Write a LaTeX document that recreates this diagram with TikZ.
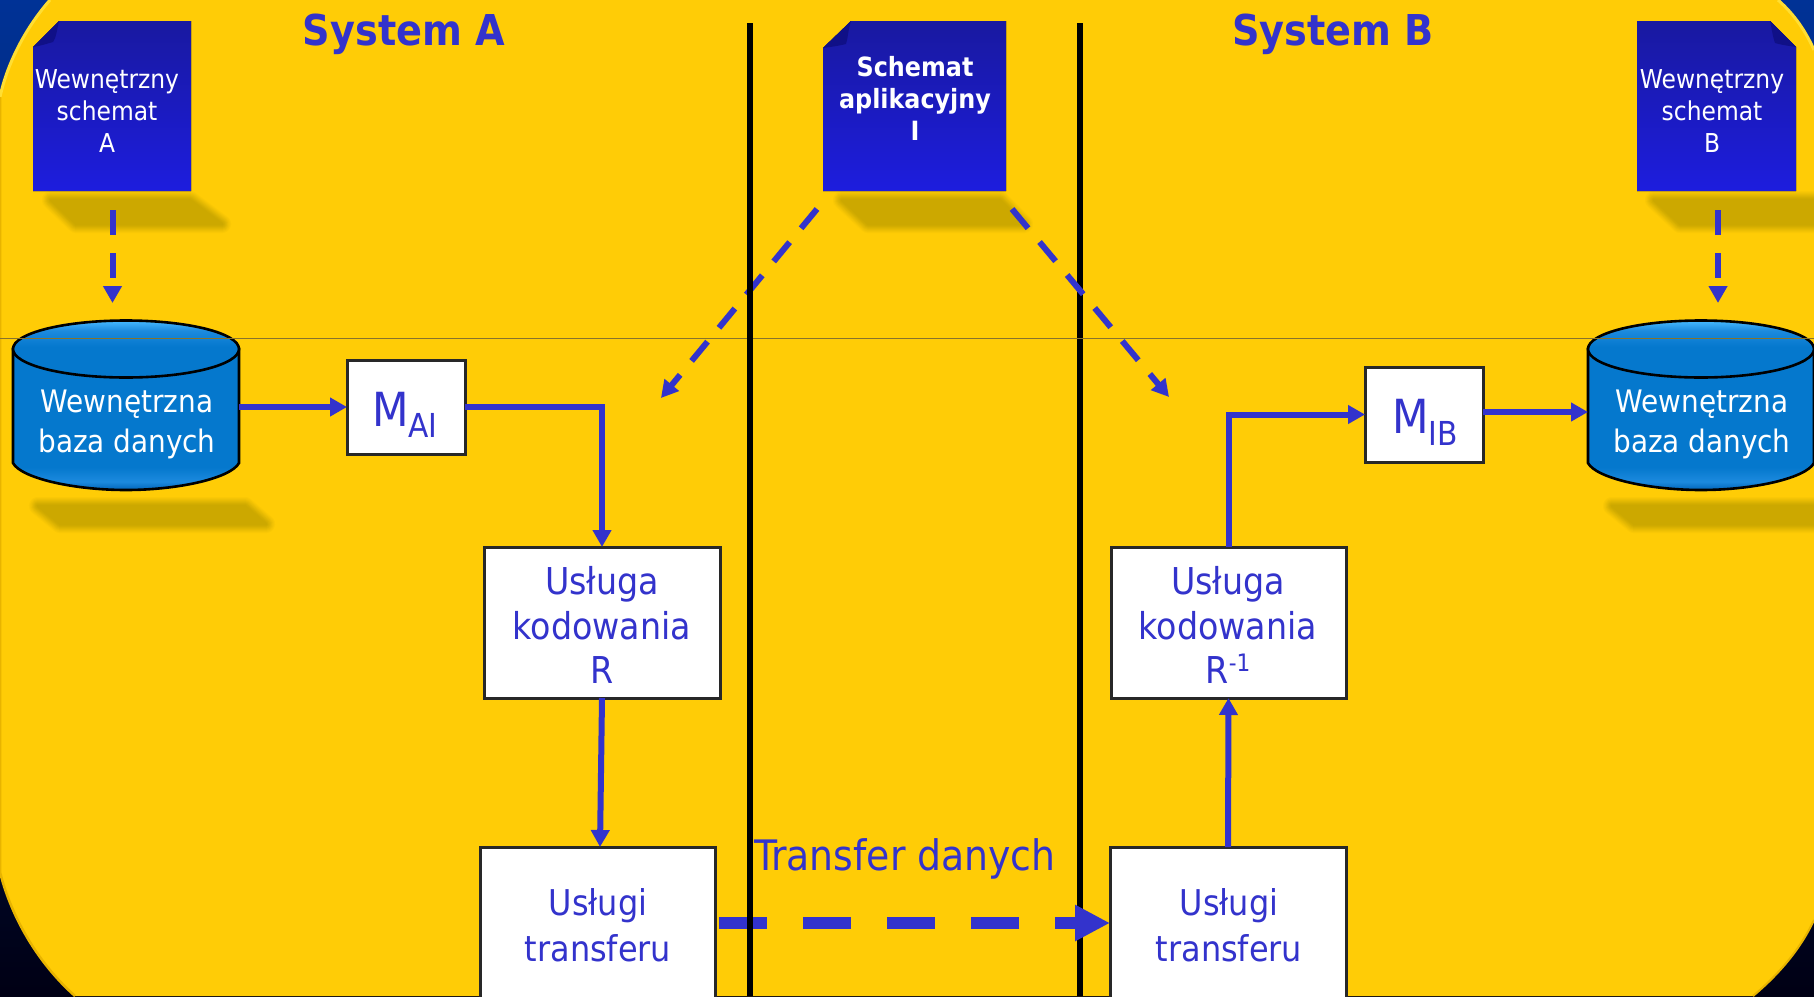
\documentclass[tikz,border=0pt]{standalone}
\usepackage{fontspec}
\setmainfont{DejaVu Sans Condensed}
\usetikzlibrary{arrows.meta}
\definecolor{ink}{RGB}{51,51,204}
\definecolor{gold}{RGB}{255,204,6}
\definecolor{shadowc}{RGB}{204,168,0}
\definecolor{cylmid}{RGB}{5,120,205}
\definecolor{cyllight}{RGB}{70,185,255}
\definecolor{cylrim}{RGB}{28,138,222}
\definecolor{cyldark}{RGB}{0,100,185}
\definecolor{foldc}{RGB}{16,16,135}
\definecolor{notetop}{RGB}{25,25,160}
\definecolor{notebot}{RGB}{29,29,222}
\definecolor{boxedge}{RGB}{40,40,40}
\definecolor{skytop}{RGB}{0,50,150}
\definecolor{skybot}{RGB}{0,0,20}
\definecolor{rimlight}{RGB}{255,222,50}
\definecolor{rimdark}{RGB}{232,180,0}
\definecolor{hairline}{RGB}{135,115,45}
\pgfdeclareverticalshading{cylbody}{100bp}{color(0bp)=(cyldark);color(25bp)=(cyldark);color(28bp)=(cylrim);color(33bp)=(cylmid);color(100bp)=(cylmid)}
\pgfdeclareverticalshading{cyltop}{100bp}{color(0bp)=(cylmid);color(52bp)=(cylmid);color(66bp)=(cylrim);color(75bp)=(cyllight);color(100bp)=(cyllight)}
\newcommand{\softshadow}[4]{%
  \foreach \w/\m in {18/10,16/22,14/34,12/46,10/58,8/70,6/82,4/92,2/100}{%
    \draw[draw=shadowc!\m!gold,fill=shadowc!\m!gold,line width=\w pt,line join=round] #1 -- #2 -- #3 -- #4 -- cycle;}}
\newcommand{\drumshape}[1]{%
  \begin{scope}[xshift=#1pt]
    \draw[line width=2.6pt,shading=cylbody] (0,349) -- (0,463) .. controls (8,478) and (60,490) .. (113,490) .. controls (166,490) and (218,478) .. (226,463) -- (226,349) -- cycle;
    \draw[line width=2.6pt,shading=cyltop] (113,349) ellipse [x radius=113,y radius=28.5];
  \end{scope}}
\tikzset{
  whitebox/.style={draw=boxedge,fill=white,line width=3pt,inner sep=0pt,outer sep=0pt,rectangle},
  anchorbox/.style={inner sep=0pt,outer sep=0pt,rectangle},
  inktext/.style={text=ink,align=center,inner sep=0pt},
  lighttext/.style={text=white,align=center,inner sep=0pt},
  solidarrow/.style={draw=ink,line width=6pt,-{Triangle[length=17pt,width=18pt]}},
  dasharrow/.style={draw=ink,line width=6pt,dash pattern=on 25pt off 18pt,-{Triangle[length=17pt,width=18pt]}},
  bigdash/.style={draw=ink,line width=12pt,dash pattern=on 48pt off 36pt,-{Triangle[length=35pt,width=34pt]}},
  divider/.style={draw=black,line width=5.5pt},
}
\begin{document}
\begin{tikzpicture}[x=1pt,y=-1pt]
\useasboundingbox (0,0) rectangle (1814,996);
% outer background
\shade[top color=skytop,bottom color=skybot] (0,0) rectangle (1814,996);
% yellow panel
\fill[gold] (50,0) -- (1778,0) .. controls (1795,15) and (1806,32) .. (1814,50) -- (1814,920) .. controls (1800,950) and (1778,975) .. (1753,996) -- (75,996) .. controls (40,965) and (12,920) .. (0,872) -- (0,97) .. controls (8,60) and (28,25) .. (50,0) -- cycle;
\draw[draw=rimlight,line width=3pt] (0,97) .. controls (8,60) and (28,25) .. (50,0);
\draw[draw=rimlight,line width=3pt] (1778,0) .. controls (1795,15) and (1806,32) .. (1814,50);
\draw[draw=rimdark,line width=2.5pt] (0,97) -- (0,872) .. controls (12,920) and (40,965) .. (75,996);
\draw[draw=rimdark,line width=2pt] (1753,996) .. controls (1778,975) and (1800,950) .. (1814,920);
% soft shadows
\softshadow{(51,200)}{(190,200)}{(222,224)}{(76,224)}
\softshadow{(842,200)}{(1000,200)}{(1024,224)}{(868,224)}
\softshadow{(1654,200)}{(1830,200)}{(1840,224)}{(1680,224)}
\softshadow{(38,506)}{(245,506)}{(266,524)}{(60,524)}
\softshadow{(1612,506)}{(1830,506)}{(1840,524)}{(1634,524)}
% right divider lies under the transfer arrow
\draw[divider] (1080,23) -- (1080,996);
% cylinders
\drumshape{13}
\drumshape{1588}
\node[anchorbox,minimum width=226pt,minimum height=166pt] (cylA) at (126,407) {};
\node[anchorbox,minimum width=226pt,minimum height=166pt] (cylB) at (1701,414.5) {};
\node[lighttext,font=\fontsize{31}{40}\selectfont] (cylAtext) at (127,424) {Wewnętrzna\\baza danych};
\node[lighttext,font=\fontsize{31}{40}\selectfont] (cylBtext) at (1702,424) {Wewnętrzna\\baza danych};
% thin horizontal line
\draw[draw=hairline,line width=1pt] (0,338) -- (1814,338);
% schema notes
\fill[top color=notetop,bottom color=notebot] (59,21) -- (191,21) -- (191,191) -- (33,191) -- (33,47) -- cycle;
\fill[foldc] (59,21) .. controls (57,30) and (56,38) .. (53,42) .. controls (46,44) and (40,46) .. (33,47) -- cycle;
\fill[top color=notetop,bottom color=notebot] (851,21) -- (1006,21) -- (1006,191) -- (823,191) -- (823,48) -- cycle;
\fill[foldc] (851,21) .. controls (848,30) and (848,38) .. (846,44) .. controls (838,46) and (830,47) .. (823,48) -- cycle;
\fill[top color=notetop,bottom color=notebot] (1637,21) -- (1770,21) -- (1796,47) -- (1796,191) -- (1637,191) -- cycle;
\fill[foldc] (1770,21) .. controls (1772,30) and (1773,38) .. (1775,43) .. controls (1782,45) and (1789,46) .. (1796,47) -- cycle;
\node[lighttext,font=\fontsize{26}{32}\selectfont] (schemaA) at (107,111) {Wewnętrzny\\schemat\\A};
\node[lighttext,font=\fontsize{26}{32}\selectfont] (schemaB) at (1712,111) {Wewnętrzny\\schemat\\B};
\node[lighttext,font=\bfseries\fontsize{26.5}{32}\selectfont] (schemaI) at (915,98) {Schemat\\aplikacyjny\\I};
\node[text=ink,inner sep=0pt,font=\bfseries\fontsize{42.5}{48}\selectfont] (titleA) at (404,34) {System A};
\node[text=ink,inner sep=0pt,font=\bfseries\fontsize{42.5}{48}\selectfont] (titleB) at (1333,34) {System B};
% white boxes
\node[whitebox,minimum width=118pt,minimum height=94pt] (mai) at (406,407) {};
\node[whitebox,minimum width=118pt,minimum height=95pt] (mib) at (1424,414.5) {};
\node[whitebox,minimum width=236pt,minimum height=151pt] (usA) at (602,622.5) {};
\node[whitebox,minimum width=235pt,minimum height=151pt] (usB) at (1228.5,622.5) {};
\node[whitebox,minimum width=235pt,minimum height=152pt] (trA) at (597.5,923) {};
\node[whitebox,minimum width=236pt,minimum height=152pt] (trB) at (1228,923) {};
\node[text=ink,inner sep=0pt,anchor=base west,font=\fontsize{47}{50}\selectfont] (maiT) at (372,426) {M\raisebox{-11pt}{\fontsize{33}{33}\selectfont AI}};
\node[text=ink,inner sep=0pt,anchor=base west,font=\fontsize{47}{50}\selectfont] (mibT) at (1392,433) {M\raisebox{-12pt}{\fontsize{33}{33}\selectfont IB}};
\node[inktext,font=\fontsize{37}{44.5}\selectfont] (usAT) at (602,625) {Usługa\\kodowania\\R};
\node[inktext,font=\fontsize{37}{44.5}\selectfont] (usBT) at (1228,625) {Usługa\\kodowania\\R\raisebox{12pt}{\fontsize{24}{24}\selectfont -1}};
\node[inktext,font=\fontsize{35.5}{46}\selectfont] (trAT) at (598,925) {Usługi\\transferu};
\node[inktext,font=\fontsize{35.5}{46}\selectfont] (trBT) at (1229,925) {Usługi\\transferu};
\node[text=ink,inner sep=0pt,font=\fontsize{42}{50}\selectfont] (transferT) at (905,859) {Transfer danych};
% connectors
\coordinate (schemaAout) at (112.5,210);
\coordinate (schemaBout) at (1718,210);
\coordinate (cylAin) at (112.5,303);
\coordinate (cylBin) at (1718,303);
\coordinate (schemaIoutL) at (817,209);
\coordinate (schemaIoutR) at (1012,209);
\coordinate (freeL) at (661,398);
\coordinate (freeR) at (1169,397);
\draw[dasharrow] (schemaAout) -- (cylAin);
\draw[dasharrow] (schemaBout) -- (cylBin);
\draw[dasharrow] (schemaIoutL) -- (freeL);
\draw[dasharrow] (schemaIoutR) -- (freeR);
\draw[solidarrow] (cylA.east) -- (mai.west);
\draw[solidarrow] (mai.east) -| (usA.north);
\draw[solidarrow] (usA.south) -- ([xshift=2.5pt]trA.north);
\draw[solidarrow] (trB.north) -- (usB.south);
\draw[solidarrow] (usB.north) |- (mib.west);
\draw[solidarrow] ([yshift=2.5pt]mib.east) -- ([yshift=2.5pt]cylB.west);
\draw[bigdash] ([xshift=4pt]trA.east) -- (trB.west);
\draw[divider] (750,23) -- (750,996);
\end{tikzpicture}
\end{document}
